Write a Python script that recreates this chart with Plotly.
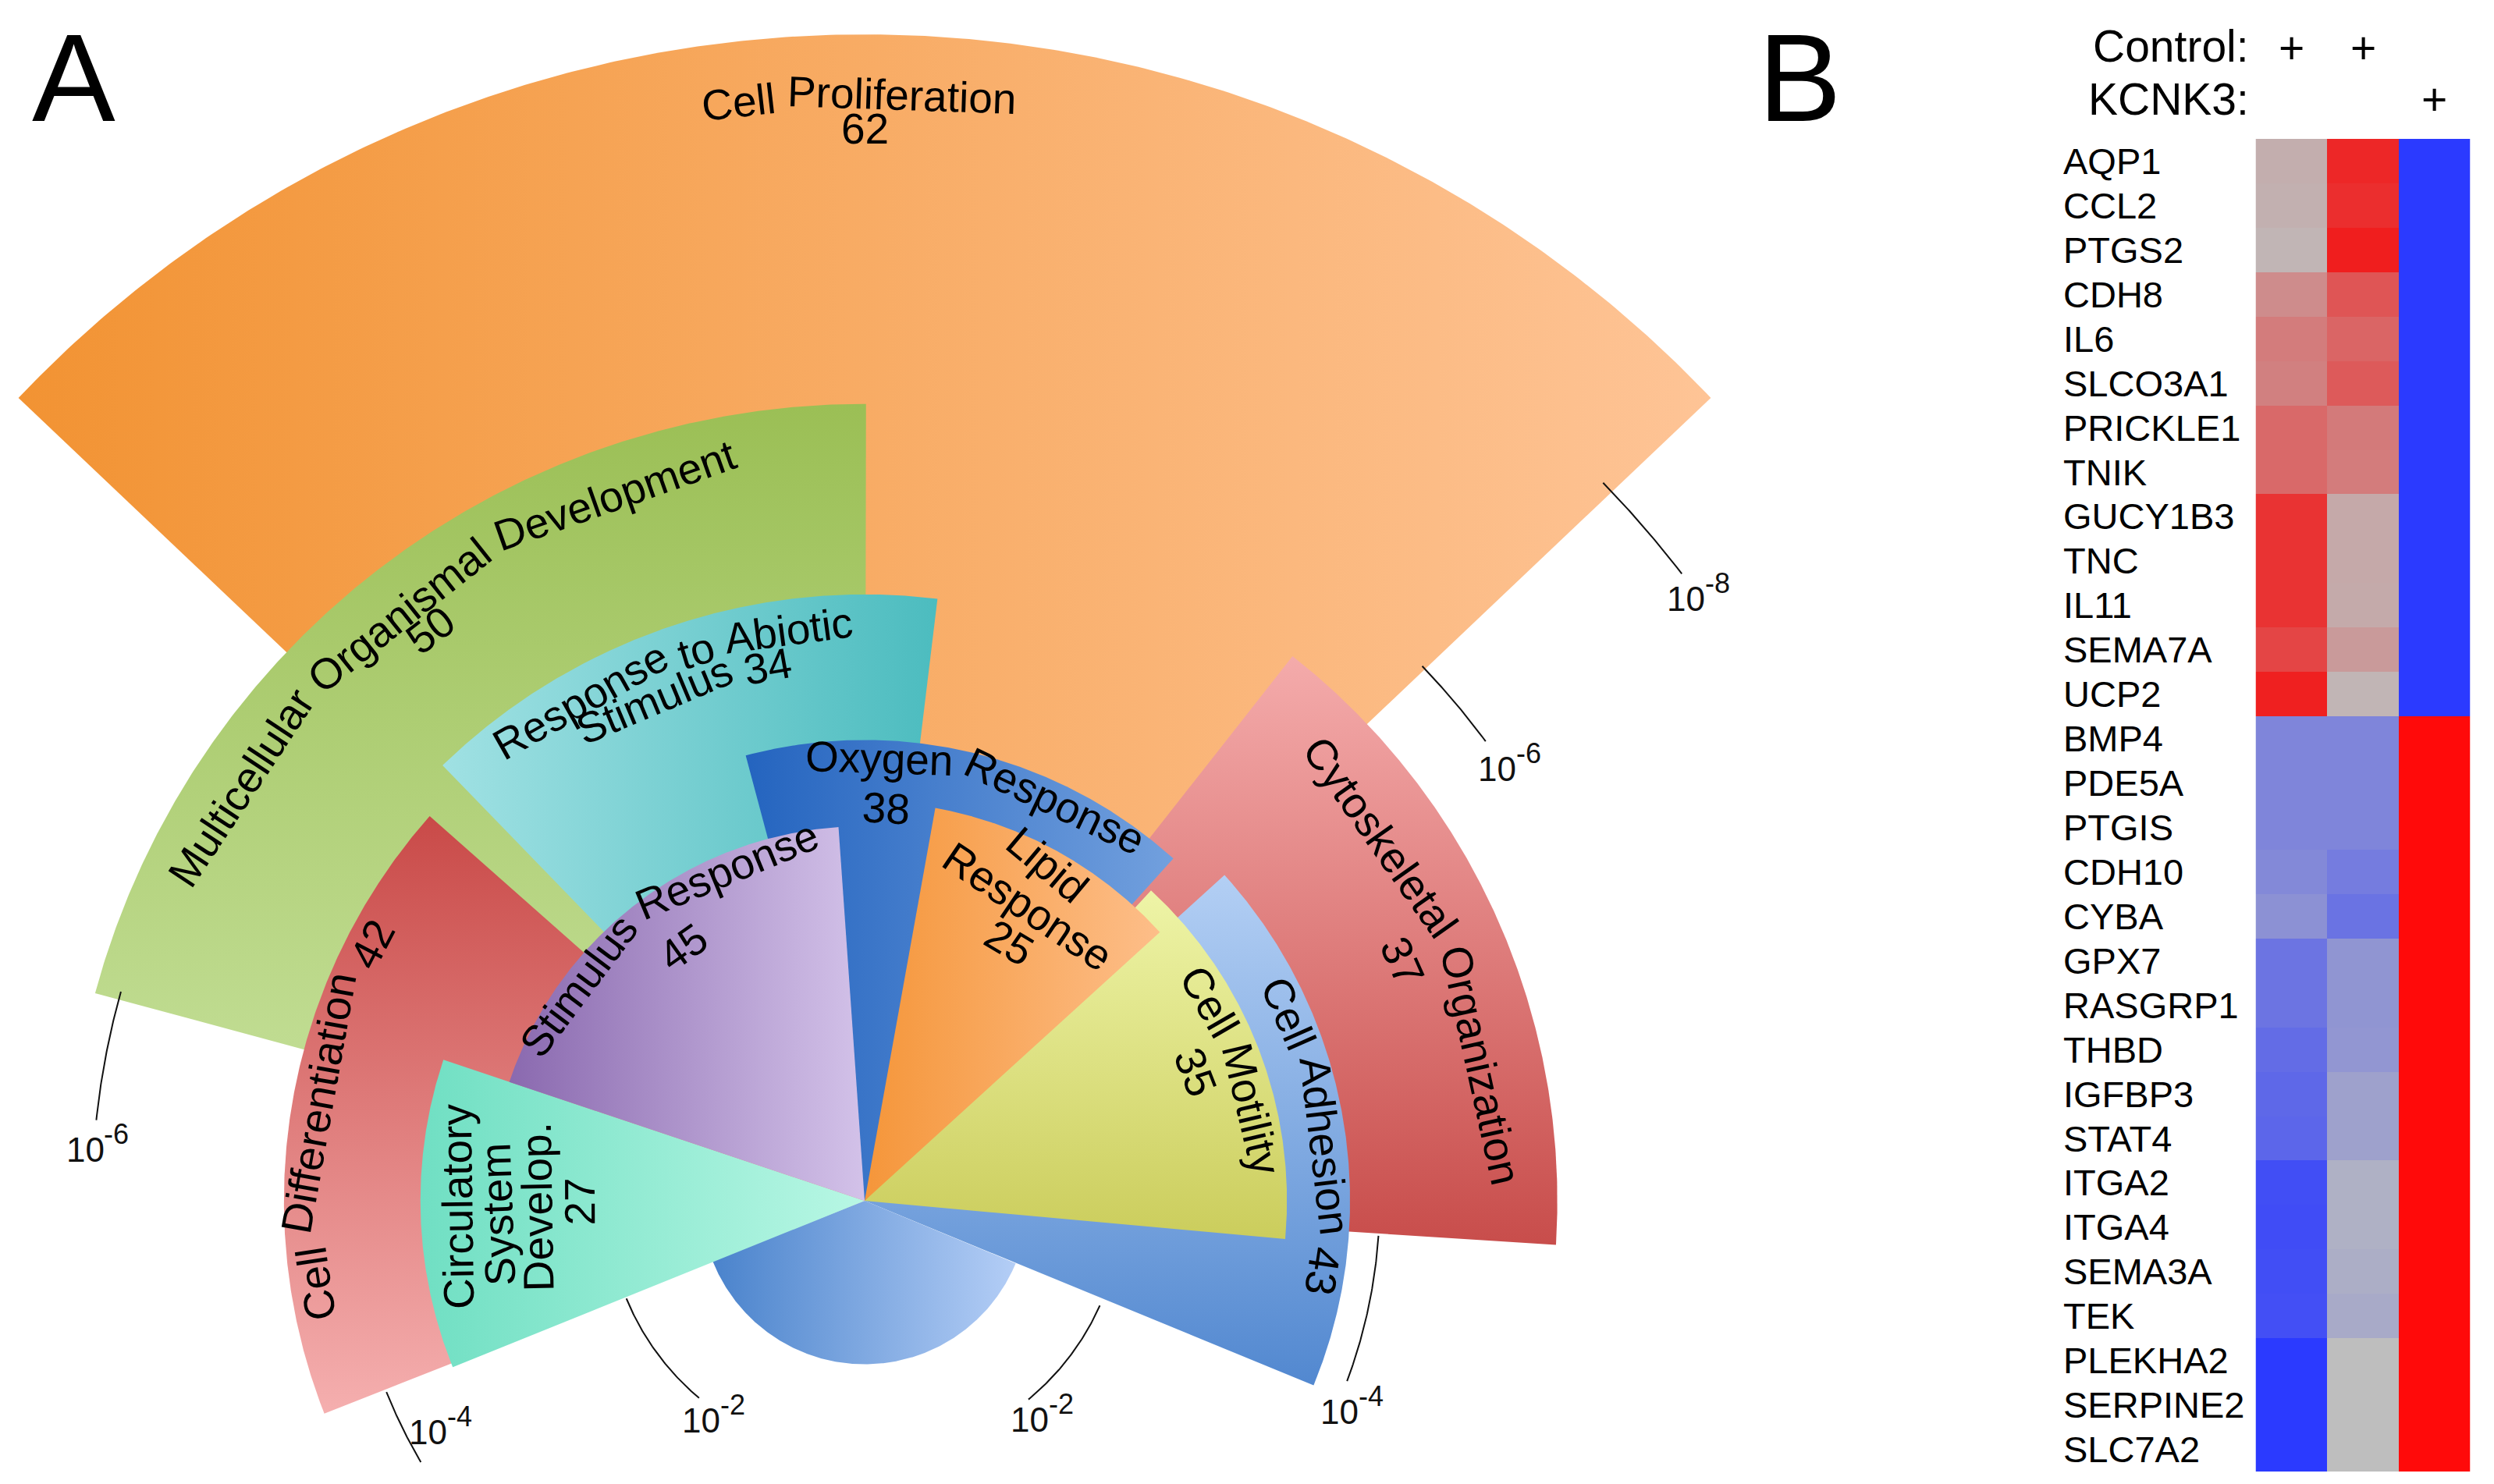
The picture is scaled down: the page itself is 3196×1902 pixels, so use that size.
import numpy as np
import plotly.graph_objects as go

# ======================= DATA: panel A (GO enrichment rose) =======================
categories = [
    "Cell Proliferation",
    "Multicellular Organismal Development",
    "Response to Abiotic Stimulus",
    "Oxygen Response",
    "Stimulus Response",
    "Lipid Response",
    "Cell Motility",
    "Cell Adhesion",
    "Cytoskeletal Organization",
    "Cell Differentiation",
    "Circulatory System Develop.",
]
gene_counts = [62, 50, 34, 38, 45, 25, 35, 43, 37, 42, 27]
# enrichment significance, -log10(p)
neg_log10_p = [9.06, 6.19, 4.71, 3.58, 2.91, 3.10, 3.28, 3.77, 5.38, 4.51, 3.45]
base_neg_log10_p = 1.27          # unlabelled inner (background) wedge
tick_p_values = [1e-2, 1e-4, 1e-6, 1e-8]
tick_base = "10"
tick_exponents = ["-2", "-4", "-6", "-8"]

# ======================= DATA: panel B (heatmap) =======================
genes = ["AQP1", "CCL2", "PTGS2", "CDH8", "IL6", "SLCO3A1", "PRICKLE1", "TNIK", "GUCY1B3",
         "TNC", "IL11", "SEMA7A", "UCP2", "BMP4", "PDE5A", "PTGIS", "CDH10", "CYBA", "GPX7",
         "RASGRP1", "THBD", "IGFBP3", "STAT4", "ITGA2", "ITGA4", "SEMA3A", "TEK", "PLEKHA2",
         "SERPINE2", "SLC7A2"]
control_1 = [0.09, 0.08, 0.05, 0.28, 0.37, 0.35, 0.48, 0.48, 0.78, 0.78, 0.78, 0.68, 0.89,
             -0.43, -0.43, -0.43, -0.40, -0.34, -0.56, -0.56, -0.62, -0.65, -0.67, -0.85,
             -0.86, -0.85, -0.84, -1.00, -1.00, -1.00]
control_2 = [0.85, 0.81, 0.90, 0.59, 0.50, 0.56, 0.38, 0.37, 0.12, 0.12, 0.11, 0.20, 0.05,
             -0.43, -0.43, -0.43, -0.50, -0.57, -0.31, -0.31, -0.30, -0.22, -0.22, -0.10,
             -0.10, -0.12, -0.15, 0.00, 0.00, 0.00]
kcnk3 = [-1, -1, -1, -1, -1, -1, -1, -1, -1, -1, -1, -1, -1,
         1, 1, 1, 1, 1, 1, 1, 1, 1, 1, 1, 1, 1, 1, 1, 1, 1]
control_marks = ["+", "+", ""]
kcnk3_marks = ["", "", "+"]

# ======================= LAYOUT / STYLE =======================
FIG_W, FIG_H = 3196, 1902
CX, CY = 1100, 1531          # pixel position of the rose centre
PX_PER_UNIT = 165            # pixels per -log10(p) unit
DEG_PER_GENE = 1.5
FONT = "Liberation Sans, Arial, sans-serif"
LABEL_SIZE = 55
LABEL_R_SHIFT = 0.05
TICK_SIZE = 44
TICK_EXP_SIZE = 36

# angular centre of each wedge (deg, counter-clockwise from east)
wedge_center = [90.0, 127.4, 108.6, 76.45, 127.75, 61.05, 21.05, 9.9, 24.1, 170.0, 181.75]
base_center, base_width = 269.5, 136.0
# gradient (type, low colour, high colour)
wedge_fill = [
    ("horizontal", "#F29333", "#FEC496"),
    ("vertical", "#C9E3A0", "#9BBF55"),
    ("horizontal", "#A0E1E3", "#4CBCBF"),
    ("horizontal", "#2464BF", "#72A0DE"),
    ("horizontal", "#8A69AF", "#D3C2E9"),
    ("horizontal", "#F5963A", "#FDBE89"),
    ("vertical", "#CBCD5C", "#EEF4A7"),
    ("vertical", "#5288D0", "#B3CFF4"),
    ("vertical", "#C84D4B", "#F4ABAB"),
    ("vertical", "#F5AFAF", "#C94A48"),
    ("horizontal", "#70DFC3", "#B8F7E4"),
]
base_fill = ("horizontal", "#4A83CC", "#B4CEF6")
draw_order = [0, 1, 8, 2, 9, 7, 3, "base", 10, 4, 6, 5]

# label lines: (text template, radius, angle[, rotation override])
LABEL_LINES = {
    "Cell Proliferation": [("Cell Proliferation", 8.54, 90.3), ("{n}", 8.28, 90.0)],
    "Multicellular Organismal Development": [("Multicellular Organismal Development", 5.76, 127.5),
                                             ("{n}", 5.52, 127.3)],
    "Response to Abiotic Stimulus": [("Response to Abiotic", 4.42, 110.2), ("Stimulus {n}", 4.17, 109.6)],
    "Oxygen Response": [("Oxygen Response", 3.39, 74.85), ("{n}", 3.0, 86.9)],
    "Stimulus Response": [("Stimulus Response", 2.73, 126.7), ("{n}", 2.37, 125.6)],
    "Lipid Response": [("Lipid", 2.92, 61.5, 40), ("Response", 2.56, 61.0, 34), ("{n}", 2.25, 60.8, 31)],
    "Cell Motility": [("Cell Motility", 3.04, 19.5), ("{n}", 2.71, 21.3)],
    "Cell Adhesion": [("Cell Adhesion {n}", 3.55, 8.4)],
    "Cytoskeletal Organization": [("Cytoskeletal Organization", 4.85, 23.6), ("{n}", 4.52, 24.0)],
    "Cell Differentiation": [("Cell Differentiation {n}", 4.26, 171.2)],
    "Circulatory System Develop.": [("Circulatory", 3.11, 180.8), ("System", 2.80, 182.2),
                                    ("Develop.", 2.49, 181.0), ("{n}", 2.16, 180.2)],
}
# tick arcs: (tick index, arc start deg, arc end deg, label angle, label radius)
TICK_ARCS = [
    (0, 202.3, 230.0, 235.6, 2.08),
    (0, -24.0, -50.5, -51.1, 2.20),
    (1, 201.8, 210.5, 208.8, 3.76),
    (1, -3.9, -20.5, -23.6, 4.13),
    (2, 164.3, 174.0, 176.3, 5.97),
    (2, 43.8, 36.5, 33.7, 6.02),
    (3, 44.2, 37.5, 35.75, 7.98),
]

CHAR_W = {" ": .278, ".": .278, "-": .333, "A": .667, "B": .667, "C": .722, "D": .722, "E": .667,
          "F": .611, "G": .778, "I": .278, "L": .556, "M": .833, "O": .778, "P": .667, "R": .722,
          "S": .667, "a": .556, "b": .556, "c": .5, "d": .556, "e": .556, "f": .278, "g": .556,
          "h": .556, "i": .222, "k": .5, "l": .222, "m": .833, "n": .556, "o": .556, "p": .556,
          "r": .333, "s": .5, "t": .278, "u": .556, "v": .5, "x": .5, "y": .5, "z": .5}


def text_px(s, size):
    return sum(CHAR_W.get(ch, 0.556) for ch in s) * size


def arc_words(line, r, theta_c, size):
    """place words of a line along an arc, reading clockwise"""
    words = line.split(" ")
    widths = [text_px(w, size) for w in words]
    space = CHAR_W[" "] * size
    total = sum(widths) + space * (len(words) - 1)
    rpx = r * PX_PER_UNIT
    th = np.radians(theta_c) + (total / 2) / rpx
    out = []
    for w, wd in zip(words, widths):
        out.append((w, np.degrees(th - (wd / 2) / rpx)))
        th -= (wd + space) / rpx
    return out


def wedge_xy(center_deg, width_deg, radius):
    a = np.radians(np.linspace(center_deg - width_deg / 2, center_deg + width_deg / 2, 300))
    x = np.concatenate([[0.0], radius * np.cos(a), [0.0]])
    y = np.concatenate([[0.0], radius * np.sin(a), [0.0]])
    return x, y


fig = go.Figure()

# ---- wedges ----
for idx in draw_order:
    if idx == "base":
        x, y = wedge_xy(base_center, base_width, base_neg_log10_p)
        gtype, c0, c1 = base_fill
        name = "background"
    else:
        x, y = wedge_xy(wedge_center[idx], gene_counts[idx] * DEG_PER_GENE, neg_log10_p[idx])
        gtype, c0, c1 = wedge_fill[idx]
        name = categories[idx]
    fig.add_trace(go.Scatter(
        x=x, y=y, mode="lines", fill="toself", line=dict(width=0, color="rgba(0,0,0,0)"),
        fillgradient=dict(type=gtype, colorscale=[[0, c0], [1, c1]]),
        hoverinfo="skip", showlegend=False, name=name, xaxis="x", yaxis="y"))

# ---- tick arcs + labels (base "10" and raised exponent as two texts) ----
annotations = []
for ti, a0, a1, la, lr in TICK_ARCS:
    rr = -np.log10(tick_p_values[ti])
    a = np.radians(np.linspace(a0, a1, 60))
    fig.add_trace(go.Scatter(x=rr * np.cos(a), y=rr * np.sin(a), mode="lines",
                             line=dict(color="#111111", width=2), hoverinfo="skip",
                             showlegend=False, xaxis="x", yaxis="y"))
    cxl = lr * np.cos(np.radians(la))
    cyl = lr * np.sin(np.radians(la))
    wb = text_px(tick_base, TICK_SIZE)
    we = text_px(tick_exponents[ti], TICK_EXP_SIZE)
    tot = wb + we
    annotations.append(dict(
        x=cxl + (-tot / 2 + wb / 2) / PX_PER_UNIT, y=cyl + 2 / PX_PER_UNIT,
        xref="x", yref="y", text=tick_base, showarrow=False,
        xanchor="center", yanchor="middle",
        font=dict(family=FONT, size=TICK_SIZE, color="#111111")))
    annotations.append(dict(
        x=cxl + (-tot / 2 + wb + we / 2) / PX_PER_UNIT, y=cyl + 22 / PX_PER_UNIT,
        xref="x", yref="y", text=tick_exponents[ti], showarrow=False,
        xanchor="center", yanchor="middle",
        font=dict(family=FONT, size=TICK_EXP_SIZE, color="#111111")))

# ---- wedge labels ----
for cat, n in zip(categories, gene_counts):
    for spec in LABEL_LINES[cat]:
        tmpl, r, th = spec[:3]
        r = r + LABEL_R_SHIFT
        rot = spec[3] if len(spec) > 3 else None
        line = tmpl.format(n=n)
        for word, ang in arc_words(line, r, th, LABEL_SIZE):
            ta = rot if rot is not None else 90 - ang
            annotations.append(dict(
                x=r * np.cos(np.radians(ang)), y=r * np.sin(np.radians(ang)),
                xref="x", yref="y", text=word, showarrow=False, textangle=ta,
                xanchor="center", yanchor="middle",
                font=dict(family=FONT, size=LABEL_SIZE, color="#000000")))

# ---- heatmap ----
z = [[a, b, c] for a, b, c in zip(control_1, control_2, kcnk3)]
fig.add_trace(go.Heatmap(
    z=z, x=[0, 1, 2], y=genes, xaxis="x2", yaxis="y2",
    colorscale=[[0, "rgb(43,58,255)"], [0.5, "rgb(190,190,190)"],
                [0.95, "rgb(240,30,30)"], [1, "rgb(255,10,10)"]],
    zmin=-1, zmax=1, showscale=False, hoverinfo="skip"))

for g in genes:
    annotations.append(dict(x=2634 / FIG_W, y=g, xref="paper", yref="y2", text=g,
                            showarrow=False, xanchor="left", yanchor="middle",
                            font=dict(family=FONT, size=47, color="#000000")))

annotations.append(dict(x=2876 / FIG_W, y=1 - 51 / FIG_H, xref="paper", yref="paper",
                        text="Control:", showarrow=False, xanchor="right", yanchor="middle",
                        font=dict(family=FONT, size=57, color="#000000")))
annotations.append(dict(x=2876 / FIG_W, y=1 - 119 / FIG_H, xref="paper", yref="paper",
                        text="KCNK3:", showarrow=False, xanchor="right", yanchor="middle",
                        font=dict(family=FONT, size=57, color="#000000")))
for i, m in enumerate(control_marks):
    if m:
        annotations.append(dict(x=i, y=1 - 53 / FIG_H, xref="x2", yref="paper", text=m,
                                showarrow=False, xanchor="center", yanchor="middle",
                                font=dict(family=FONT, size=57, color="#000000")))
for i, m in enumerate(kcnk3_marks):
    if m:
        annotations.append(dict(x=i, y=1 - 119 / FIG_H, xref="x2", yref="paper", text=m,
                                showarrow=False, xanchor="center", yanchor="middle",
                                font=dict(family=FONT, size=57, color="#000000")))

# ---- panel letters ----
annotations.append(dict(x=86 / FIG_W, y=1.0, xref="paper", yref="paper", text="A",
                        showarrow=False, xanchor="center", yanchor="top",
                        font=dict(family=FONT, size=160, color="#000000")))
annotations.append(dict(x=2298 / FIG_W, y=1.0, xref="paper", yref="paper", text="B",
                        showarrow=False, xanchor="center", yanchor="top",
                        font=dict(family=FONT, size=160, color="#000000")))

fig.update_layout(
    width=FIG_W, height=FIG_H,
    margin=dict(l=0, r=0, t=0, b=0, pad=0, autoexpand=False),
    paper_bgcolor="white", plot_bgcolor="rgba(0,0,0,0)",
    showlegend=False,
    xaxis=dict(domain=[0, 1], range=[(0 - CX) / PX_PER_UNIT, (FIG_W - CX) / PX_PER_UNIT],
               visible=False, fixedrange=True),
    yaxis=dict(domain=[0, 1], range=[(CY - FIG_H) / PX_PER_UNIT, CY / PX_PER_UNIT],
               visible=False, fixedrange=True),
    xaxis2=dict(domain=[2882.5 / FIG_W, 3157.5 / FIG_W], range=[-0.5, 2.5], anchor="y2",
                visible=False, fixedrange=True),
    yaxis2=dict(domain=[1 - 1878 / FIG_H, 1 - 170 / FIG_H], range=[len(genes) - 0.5, -0.5],
                type="category", anchor="x2", visible=False, fixedrange=True),
    annotations=annotations,
)

fig.write_html("out.html")
